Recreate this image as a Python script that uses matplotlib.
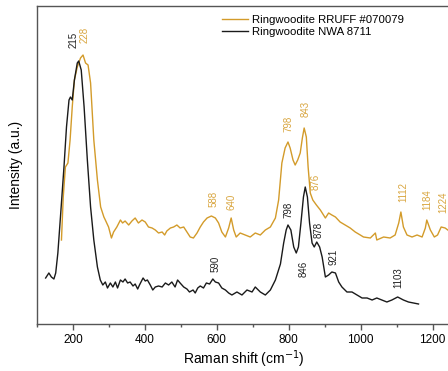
import matplotlib
matplotlib.use("Agg")
import matplotlib.pyplot as plt

plt.rcParams['font.family'] = ['Liberation Sans', 'DejaVu Sans']

# Ringwoodite NWA 8711 (black)
nwa_shift = [124, 133, 140, 147, 152, 158, 166, 175, 182, 189, 193, 198, 204, 212, 216,
             223, 231, 240, 249, 258, 268, 276, 283, 290, 296, 304, 311, 318, 324, 332,
             339, 345, 352, 359, 367, 373, 380, 385, 395, 401, 407, 415, 422, 429, 438,
             448, 457, 466, 475, 484, 491, 498, 508, 517, 524, 534, 540, 547, 554, 563,
             571, 580, 589, 596, 605, 614, 624, 633, 642, 656, 670, 684, 698, 707, 721,
             735, 749, 763, 777, 786, 793, 798, 806, 814, 821, 827, 834, 841, 846, 852,
             858, 865, 871, 878, 886, 893, 902, 911, 920, 930, 939, 948, 962, 976, 990,
             1004, 1018, 1032, 1045, 1059, 1073, 1087, 1103, 1119, 1133, 1147, 1161]
nwa_int = [46, 51, 47, 45, 51, 71, 111, 157, 197, 224, 227, 224, 244, 261, 263,
           254, 217, 164, 117, 84, 57, 44, 39, 42, 36, 41, 37, 42, 36, 44,
           42, 45, 41, 42, 38, 40, 35, 39, 46, 43, 44, 39, 34, 37, 38,
           37, 41, 39, 42, 37, 44, 41, 37, 35, 32, 34, 31, 36, 38, 36,
           41, 40, 45, 42, 41, 36, 34, 31, 29, 32, 29, 34, 32, 37, 32,
           29, 34, 44, 60, 81, 94, 99, 94, 77, 71, 77, 101, 127, 137, 127,
           101, 81, 77, 82, 77, 67, 47, 49, 52, 51, 42, 37, 32, 32, 29,
           26, 26, 24, 26, 24, 22, 24, 27, 24, 22, 21, 20]

# Ringwoodite RRUFF #070079 (orange)
rruff_shift = [168, 173, 179, 186, 192, 198, 204, 212, 221, 228, 235, 242, 249, 258, 268,
               277, 286, 290, 299, 307, 313, 322, 332, 338, 345, 355, 364, 373, 382, 392,
               401, 410, 420, 429, 438, 448, 455, 461, 471, 480, 489, 498, 508, 517, 526,
               535, 545, 554, 563, 573, 585, 596, 605, 614, 624, 633, 640, 647, 654, 665,
               679, 693, 707, 721, 735, 749, 763, 772, 781, 790, 798, 804, 812, 818, 825,
               832, 838, 843, 849, 854, 860, 867, 877, 888, 902, 911, 920, 930, 943, 957,
               971, 985, 999, 1008, 1027, 1041, 1045, 1064, 1082, 1096, 1106, 1112, 1119,
               1129, 1143, 1157, 1171, 1180, 1184, 1194, 1205, 1214, 1224, 1235, 1250]
rruff_int = [84, 127, 157, 161, 184, 217, 244, 257, 266, 269, 261, 259, 241, 184, 144,
             117, 107, 104, 97, 86, 92, 97, 104, 101, 103, 99, 103, 106, 101, 104,
             102, 97, 96, 94, 91, 92, 89, 93, 96, 97, 99, 96, 97, 92, 87,
             86, 91, 97, 102, 106, 108, 106, 101, 92, 87, 96, 106, 94, 87, 91,
             89, 87, 91, 89, 94, 97, 106, 124, 161, 176, 182, 176, 164, 159, 164,
             171, 186, 196, 187, 157, 131, 124, 119, 114, 106, 111, 109, 107, 102, 99,
             96, 92, 89, 87, 86, 91, 84, 87, 86, 89, 101, 112, 97,
             89, 87, 89, 87, 96, 104, 94, 87, 89, 97, 96, 92]

# peak labels: text, shift, intensity at label base
nwa_labels = ['215', '590', '798', '846', '878', '921', '1103']
nwa_label_x = [201, 596, 800, 841, 882, 924, 1105]
nwa_label_y = [276, 52, 106, 47, 86, 59, 36]
rruff_labels = ['228', '588', '640', '798', '843', '876', '1112', '1184', '1224']
rruff_label_x = [231, 590, 640, 800, 846, 874, 1118, 1186, 1231]
rruff_label_y = [281, 117, 114, 192, 207, 134, 122, 114, 111]

orange = '#d39b2a'
orange_txt = '#d9a640'
black = '#1a1a1a'

fig = plt.figure(figsize=(4.48, 3.71), dpi=100)
ax = fig.add_axes([0.0826, 0.1267, 0.923, 0.8571])

ax.plot(rruff_shift, rruff_int, color=orange, lw=1.0, label='Ringwoodite RRUFF #070079')
ax.plot(nwa_shift, nwa_int, color=black, lw=1.0, label='Ringwoodite NWA 8711')

for t, x, y in zip(nwa_labels, nwa_label_x, nwa_label_y):
    ax.text(x, y, t, rotation=90, ha='center', va='bottom', fontsize=7, color='#222222')
for t, x, y in zip(rruff_labels, rruff_label_x, rruff_label_y):
    ax.text(x, y, t, rotation=90, ha='center', va='bottom', fontsize=7, color=orange_txt)

ax.set_xlim(100, 1250)
ax.set_ylim(0, 318)
ax.set_xticks([200, 400, 600, 800, 1000, 1200])
ax.set_xticks([100, 300, 500, 700, 900, 1100], minor=True)
ax.set_yticks([])
ax.tick_params(axis='x', which='major', direction='out', length=4, width=1,
               color='#555555', labelsize=8.5, pad=3)
ax.tick_params(axis='x', which='minor', direction='out', length=2.5, width=1, color='#555555')
for s in ax.spines.values():
    s.set_color('#555555')
    s.set_linewidth(1)

ax.set_xlabel('Raman shift (cm$^{-1}$)', fontsize=10, labelpad=2)
ax.set_ylabel('Intensity (a.u.)', fontsize=10, labelpad=10)

fig.legend(loc='upper left', bbox_to_anchor=(0.482, 0.975), frameon=False, fontsize=8.2,
           handlelength=2.3, handletextpad=0.4, labelspacing=0.2, borderpad=0)

fig.savefig('out.png', dpi=100)
